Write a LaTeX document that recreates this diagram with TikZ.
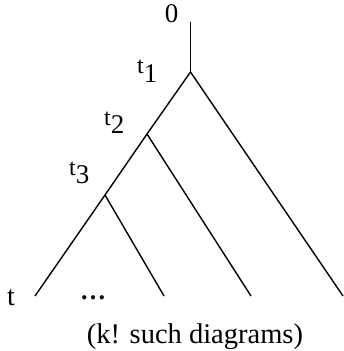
\documentclass[tikz,border=0pt]{standalone}
\usepackage{fontspec}
\setmainfont{Liberation Serif}
\begin{document}
\begin{tikzpicture}[x=1pt,y=-1pt,
  edge/.style={line width=1.4pt},
  lbl/.style={inner sep=0pt,anchor=base west,font=\fontsize{24}{24}\selectfont}]
\useasboundingbox (0,0) rectangle (343,351);
% tree points
\coordinate (top) at (190.5,22);
\coordinate (n1) at (190.5,72);
\coordinate (n2) at (147,134);
\coordinate (n3) at (105,195);
\coordinate (l0) at (35,296);
\coordinate (l3) at (164,296);
\coordinate (l2) at (251,296);
\coordinate (l1) at (343,296);
\draw[edge] (top) -- (n1);
\draw[edge] (n1) -- (n2) -- (n3) -- (l0);
\draw[edge] (n1) -- (l1);
\draw[edge] (n2) -- (l2);
\draw[edge] (n3) -- (l3);
% labels
\node[inner sep=0pt,anchor=base,font=\fontsize{27}{27}\selectfont] (zero) at (171.5,22) {0};
\node[lbl] (t1) at (137,73) {t\raisebox{-9pt}{\fontsize{27}{27}\selectfont 1}};
\node[lbl] (t2) at (104,125) {t\raisebox{-8pt}{\fontsize{27}{27}\selectfont 2}};
\node[lbl] (t3) at (69,175) {t\raisebox{-8pt}{\fontsize{27}{27}\selectfont 3}};
\node[inner sep=0pt,anchor=base west,font=\fontsize{28}{28}\selectfont] (t) at (7,305) {t};
\node[inner sep=0pt,anchor=base west,font=\fontsize{26}{26}\selectfont] (dots) at (80,299) {\textbf{\ldots}};
\node[inner sep=0pt,anchor=base,font=\fontsize{28.5}{28.5}\selectfont] (cap) at (195,343) {(k! such diagrams)};
\end{tikzpicture}
\end{document}
